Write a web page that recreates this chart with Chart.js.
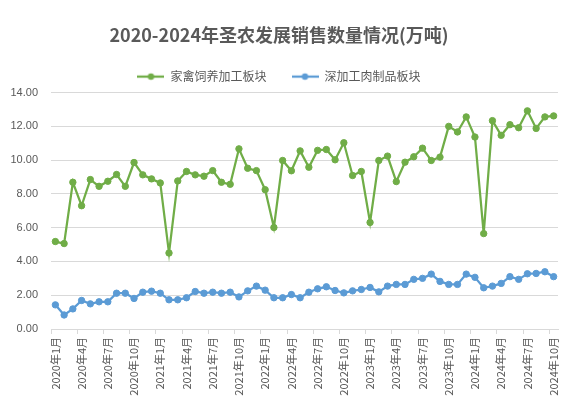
<!DOCTYPE html>
<html>
<head>
<meta charset="utf-8">
<script src="https://cdn.jsdelivr.net/npm/chart.js@4.4.1/dist/chart.umd.min.js"></script>
<style>
html,body{margin:0;padding:0;background:#fff;}
#wrap{width:577px;height:403px;}
</style>
</head>
<body>
<div id="wrap"><canvas id="c" width="577" height="403"></canvas></div>
<script>
const categories = [
  '2020年1月','2020年2月','2020年3月','2020年4月','2020年5月','2020年6月','2020年7月','2020年8月','2020年9月','2020年10月','2020年11月','2020年12月',
  '2021年1月','2021年2月','2021年3月','2021年4月','2021年5月','2021年6月','2021年7月','2021年8月','2021年9月','2021年10月','2021年11月','2021年12月',
  '2022年1月','2022年2月','2022年3月','2022年4月','2022年5月','2022年6月','2022年7月','2022年8月','2022年9月','2022年10月','2022年11月','2022年12月',
  '2023年1月','2023年2月','2023年3月','2023年4月','2023年5月','2023年6月','2023年7月','2023年8月','2023年9月','2023年10月','2023年11月','2023年12月',
  '2024年1月','2024年2月','2024年3月','2024年4月','2024年5月','2024年6月','2024年7月','2024年8月','2024年9月','2024年10月'
];
const poultryValues = [
  5.18, 5.06, 8.69, 7.30, 8.85, 8.45, 8.75, 9.15, 8.45, 9.86, 9.13, 8.89,
  8.65, 4.50, 8.77, 9.33, 9.13, 9.05, 9.38, 8.69, 8.57, 10.67, 9.52, 9.38,
  8.25, 6.01, 9.98, 9.37, 10.55, 9.58, 10.58, 10.63, 10.02, 11.03, 9.09, 9.33,
  6.31, 9.98, 10.24, 8.73, 9.88, 10.20, 10.71, 9.98, 10.18, 12.00, 11.67, 12.56,
  11.37, 5.65, 12.34, 11.47, 12.10, 11.92, 12.92, 11.88, 12.56, 12.62
];
const processedValues = [
  1.43, 0.83, 1.19, 1.69, 1.49, 1.61, 1.61, 2.12, 2.12, 1.81, 2.18, 2.24,
  2.12, 1.73, 1.73, 1.85, 2.22, 2.12, 2.18, 2.12, 2.18, 1.90, 2.26, 2.54,
  2.30, 1.85, 1.85, 2.04, 1.85, 2.18, 2.38, 2.50, 2.28, 2.14, 2.26, 2.34,
  2.46, 2.20, 2.54, 2.64, 2.64, 2.94, 3.00, 3.25, 2.82, 2.64, 2.64, 3.25,
  3.06, 2.44, 2.54, 2.70, 3.10, 2.94, 3.27, 3.29, 3.39, 3.10
];
const seriesNames = ['家禽饲养加工板块', '深加工肉制品板块'];
const yTicks = [0, 2, 4, 6, 8, 10, 12, 14];
const titleText = '2020-2024年圣农发展销售数量情况(万吨)';

const GREEN = '#70AD47';
const BLUE = '#5B9BD5';
const TEXT = '#595959';
const GRID = '#D9D9D9';
const FONT = "'Noto Sans CJK SC', 'Liberation Sans', sans-serif";

function legendIcon(color) {
  const cv = document.createElement('canvas');
  cv.width = 27; cv.height = 10;
  const g = cv.getContext('2d');
  g.strokeStyle = color; g.lineWidth = 2.25;
  g.beginPath(); g.moveTo(0, 5); g.lineTo(27, 5); g.stroke();
  g.fillStyle = color;
  g.beginPath(); g.arc(13.5, 5, 3.2, 0, Math.PI * 2); g.fill();
  return cv;
}
const icons = [legendIcon(GREEN), legendIcon(BLUE)];

const chart = new Chart(document.getElementById('c'), {
  type: 'line',
  data: {
    labels: categories,
    datasets: [
      {
        label: seriesNames[0], data: poultryValues,
        borderColor: GREEN, backgroundColor: GREEN,
        pointBackgroundColor: GREEN, pointBorderColor: GREEN,
        borderWidth: 2.25, pointRadius: 3.2, pointBorderWidth: 1, tension: 0
      },
      {
        label: seriesNames[1], data: processedValues,
        borderColor: BLUE, backgroundColor: BLUE,
        pointBackgroundColor: BLUE, pointBorderColor: BLUE,
        borderWidth: 2.25, pointRadius: 3.2, pointBorderWidth: 1, tension: 0
      }
    ]
  },
  options: {
    responsive: false,
    animation: false,
    layout: { padding: { left: 0, right: 19, top: 0, bottom: 0 } },
    plugins: {
      title: {
        display: true, text: titleText, color: TEXT,
        font: { family: FONT, size: 18, weight: 'bold' },
        padding: { top: 24, bottom: 0 }
      },
      legend: {
        display: true, position: 'top',
        labels: {
          color: TEXT, font: { family: FONT, size: 12 },
          usePointStyle: true, pointStyleWidth: 27, boxHeight: 12,
          padding: 25,
          generateLabels: (ch) => ch.data.datasets.map((ds, i) => ({
            text: ds.label, pointStyle: icons[i], fillStyle: ds.borderColor,
            strokeStyle: ds.borderColor, lineWidth: 0, hidden: false, datasetIndex: i,
            fontColor: TEXT
          }))
        }
      },
      tooltip: { enabled: false }
    },
    scales: {
      x: {
        type: 'category',
        offset: true,
        afterFit: (s) => { s.height = 74; },
        grid: {
          offset: true, drawOnChartArea: false, drawTicks: true, tickLength: 5,
          color: (ctx) => (ctx.index % 3 === 0 && ctx.index < categories.length) ? GRID : 'rgba(0,0,0,0)'
        },
        border: { display: true, color: GRID, width: 1 },
        ticks: {
          autoSkip: false, minRotation: 90, maxRotation: 90, padding: 3,
          color: TEXT, font: { family: FONT, size: 11 },
          callback: (v, i) => (i % 3 === 0 ? categories[i] : '')
        }
      },
      y: {
        min: 0, max: 14,
        afterFit: (s) => { s.width = 51; },
        afterBuildTicks: (s) => { s.ticks = yTicks.map(v => ({ value: v })); },
        grid: { color: GRID, drawTicks: false, lineWidth: 1 },
        border: { display: false },
        ticks: {
          padding: 13, color: TEXT, font: { family: 'Liberation Sans, sans-serif', size: 11 },
          callback: (v) => Number(v).toFixed(2)
        }
      }
    }
  }
});
</script>
</body>
</html>
